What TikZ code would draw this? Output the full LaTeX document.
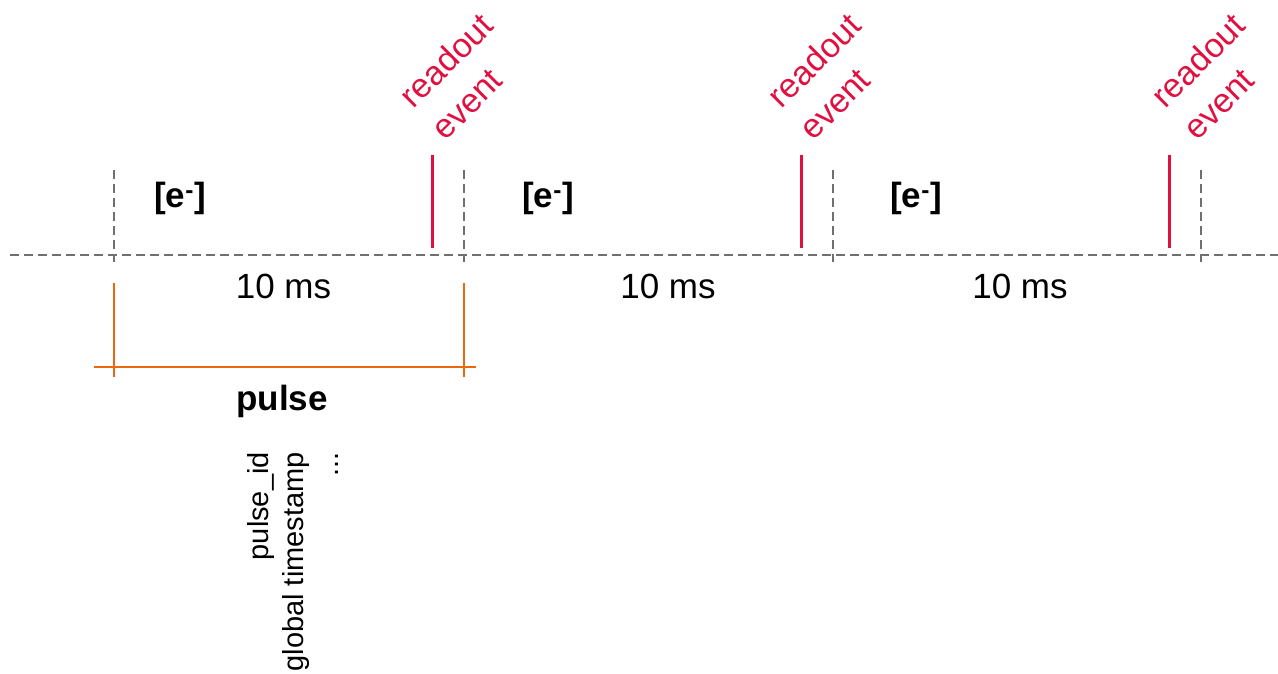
\documentclass[tikz,border=0pt]{standalone}
\usepackage{fontspec}
\setmainfont{Liberation Sans}
\definecolor{evred}{RGB}{226,16,64}
\definecolor{pulseorange}{RGB}{236,104,14}
\definecolor{axisgray}{RGB}{112,112,112}
\begin{document}
\begin{tikzpicture}[x=1pt,y=-1pt,
  axisline/.style={draw=axisgray,line width=2pt,dash pattern=on 9pt off 5pt},
  readline/.style={draw=evred,line width=3pt},
  pulseline/.style={draw=pulseorange,line width=2pt},
  elabel/.style={inner sep=0pt,font=\fontsize{35}{42}\selectfont\bfseries},
  durlabel/.style={inner sep=0pt,anchor=base,font=\fontsize{35}{42}\selectfont},
  evlabel/.style={inner sep=0pt,align=left,rotate=45,anchor=south west,text=evred,font=\fontsize{34}{45}\selectfont},
  fieldlabel/.style={inner sep=0pt,align=right,rotate=90,font=\fontsize{29}{35}\selectfont}]
\useasboundingbox (0,0) rectangle (1278,674);

% time axis
\coordinate (axL) at (10,255);
\coordinate (axR) at (1278,255);
\draw[axisline] (axL) -- (axR);

% 10 ms frame boundaries
\foreach \i/\x in {1/114,2/464,3/833,4/1201}{
  \coordinate (bt\i) at (\x,170);
  \coordinate (bb\i) at (\x,262);
  \draw[axisline] (bt\i) -- (bb\i);
}

% readout events
\foreach \i/\x/\tx in {1/432/446,2/801/814,3/1169/1198}{
  \coordinate (rt\i) at (\x,155);
  \coordinate (rb\i) at (\x,248);
  \draw[readline] (rt\i) -- (rb\i);
  \node[evlabel] (ev\i) at (\tx,142) {readout\\event};
}

% electrons collected per frame
\node[elabel] (e1) at (180,198.5) {[e\textsuperscript{-}]};
\node[elabel] (e2) at (548,198.5) {[e\textsuperscript{-}]};
\node[elabel] (e3) at (916,198.5) {[e\textsuperscript{-}]};

% frame durations
\node[durlabel] (d1) at (283.5,298) {10 ms};
\node[durlabel] (d2) at (668,298) {10 ms};
\node[durlabel] (d3) at (1020,298) {10 ms};

% pulse bracket
\coordinate (pl1) at (114,283);
\coordinate (pl2) at (114,377);
\coordinate (pr1) at (464,283);
\coordinate (pr2) at (464,377);
\coordinate (ph1) at (94,367);
\coordinate (ph2) at (476,367);
\draw[pulseline] (pl1) -- (pl2);
\draw[pulseline] (pr1) -- (pr2);
\draw[pulseline] (ph1) -- (ph2);
\node[durlabel,font=\fontsize{35}{42}\selectfont\bfseries] (pulse) at (282,410) {pulse};

% pulse metadata
\node[fieldlabel,anchor=south east] (fields) at (339,452) {pulse\_id\\global timestamp\\...};
\end{tikzpicture}
\end{document}
